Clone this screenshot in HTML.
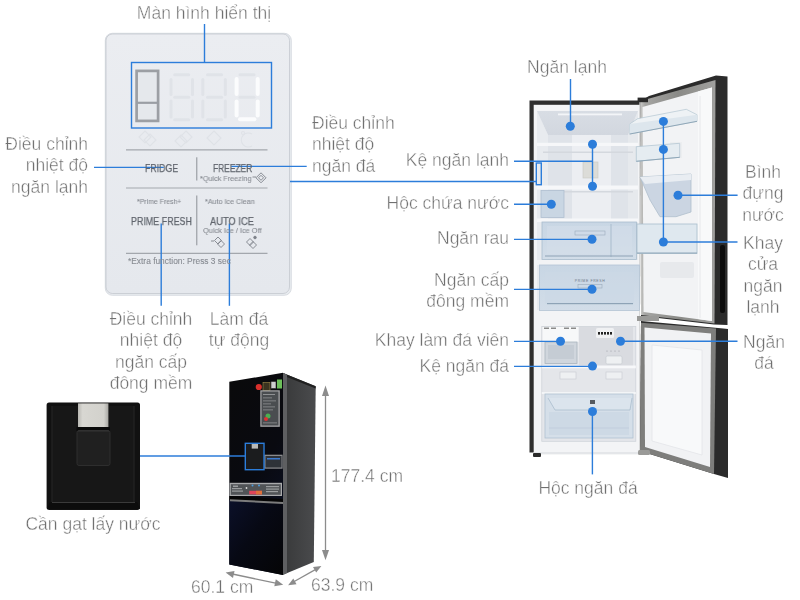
<!DOCTYPE html>
<html><head><meta charset="utf-8">
<style>
html,body{margin:0;padding:0;background:#fff;width:800px;height:600px;overflow:hidden;}
body{position:relative;font-family:"Liberation Sans",sans-serif;}
.t{position:absolute;color:#707070;-webkit-text-stroke:0.4px #fff;will-change:transform;font-size:17.5px;line-height:21.3px;white-space:nowrap;}
.r{text-align:right;}
.c{text-align:center;}
.p{position:absolute;color:#60656d;white-space:nowrap;line-height:1;transform-origin:0 0;-webkit-text-stroke:0.25px #60656d;will-change:transform;}
.s{color:#878b92;-webkit-text-stroke:0.1px #878b92;}
svg{position:absolute;left:0;top:0;}
</style></head><body>
<svg width="800" height="600" viewBox="0 0 800 600">
  <!-- control panel -->
  <defs><linearGradient id="pnl" x1="0" y1="0" x2="0" y2="1"><stop offset="0" stop-color="#ebedf1"/><stop offset="1" stop-color="#e5e8ed"/></linearGradient></defs>
  <rect x="105.3" y="33.3" width="186" height="262" rx="7" fill="#e9ecf0" stroke="#d2d6dc" stroke-width="0.8"/>
  <rect x="106" y="34" width="183.5" height="259.5" rx="6.5" fill="url(#pnl)" stroke="#bfc3ca" stroke-width="0.7"/>
  <!-- display rect -->
  <rect x="131.5" y="62.5" width="140" height="65.5" fill="none" stroke="#2c7dda" stroke-width="1.4"/>
  <rect x="136.6" y="70.9" width="21.5" height="50" fill="#e5e8ec" stroke="#9c9fa4" stroke-width="2.7"/>
  <line x1="136" y1="102.8" x2="158.5" y2="102.8" stroke="#9a9ea4" stroke-width="2.2"/>
  <!-- faint digits -->
  <g stroke="#e0e3e8" stroke-width="3" stroke-linecap="round" fill="none">
    <line x1="174.7" y1="74.7" x2="188.7" y2="74.7"/><line x1="174.7" y1="97.2" x2="188.7" y2="97.2"/><line x1="174.7" y1="119.7" x2="188.7" y2="119.7"/>
    <line x1="171" y1="79.4" x2="171" y2="94.4"/><line x1="192.5" y1="79.4" x2="192.5" y2="94.4"/><line x1="171" y1="101" x2="171" y2="117"/><line x1="192.5" y1="101" x2="192.5" y2="117"/>
    <line x1="207.5" y1="74.7" x2="221.6" y2="74.7"/><line x1="207.5" y1="97.2" x2="221.6" y2="97.2"/><line x1="207.5" y1="119.7" x2="221.6" y2="119.7"/>
    <line x1="202.8" y1="79.4" x2="202.8" y2="94.4"/><line x1="225.3" y1="79.4" x2="225.3" y2="94.4"/><line x1="202.8" y1="101" x2="202.8" y2="117"/><line x1="225.3" y1="101" x2="225.3" y2="117"/>
    <line x1="240" y1="74.7" x2="254" y2="74.7"/><line x1="240" y1="97.2" x2="254" y2="97.2"/>
  </g>
  <!-- white U -->
  <g stroke="#fbfcfd" stroke-width="4" stroke-linecap="round">
    <line x1="236.6" y1="79" x2="236.6" y2="94"/>
    <line x1="257.7" y1="79" x2="257.7" y2="94"/>
    <line x1="236.6" y1="101.5" x2="236.6" y2="115.5"/>
    <line x1="257.7" y1="101.5" x2="257.7" y2="115.5"/>
    <line x1="240" y1="119.3" x2="254.4" y2="119.3"/>
  </g>
  <!-- faint icons under display -->
  <g stroke="#dfe2e7" stroke-width="1.2" fill="none">
    <polygon points="145,131 151,137 145,143 139,137"/><polygon points="150,134 156,140 150,146 144,140"/>
    <polygon points="186,131 192,137 186,143 180,137"/><polygon points="181,135 187,141 181,147 175,141"/>
    <polygon points="214,131 221,138 214,145 207,138"/>
    <path d="M252,134 a7,7 0 1 0 0,12"/><circle cx="243" cy="133" r="1.5"/>
  </g>
  <!-- quick freezing / ice icons -->
  <g stroke="#7d8189" stroke-width="0.9" fill="none">
    <polygon points="261,172.8 266,177.8 261,182.8 256,177.8"/>
    <polygon points="261,175.3 263.5,177.8 261,180.3 258.5,177.8"/>
    <line x1="252.5" y1="177" x2="256" y2="177"/>
    <polygon points="218,237 221.5,240.5 218,244 214.5,240.5"/><polygon points="221,240.5 224.5,244 221,247.5 217.5,244"/>
    <line x1="211" y1="241" x2="214" y2="241"/>
    <polygon points="250,238.5 253.5,242 250,245.5 246.5,242"/><polygon points="253,241.5 256.5,245 253,248.5 249.5,245"/>
    <circle cx="255" cy="237.5" r="1.3" fill="#7d8189"/>
  </g>
  <!-- panel lines -->
  <line x1="126" y1="149.8" x2="267.5" y2="149.8" stroke="#a3a7ad" stroke-width="1.2"/>
  <line x1="126" y1="188" x2="267.5" y2="188" stroke="#a3a7ad" stroke-width="1.2"/>
  <line x1="126" y1="253.3" x2="267.5" y2="253.3" stroke="#a3a7ad" stroke-width="1.2"/>
  <line x1="196.8" y1="157.3" x2="196.8" y2="180.5" stroke="#8c9096" stroke-width="1"/>
  <line x1="196.8" y1="195.5" x2="196.8" y2="245.3" stroke="#8c9096" stroke-width="1"/>

  <!-- dispenser closeup -->
  <defs>
    <linearGradient id="slv" x1="0" y1="0" x2="1" y2="0">
      <stop offset="0" stop-color="#b9b8b3"/><stop offset="0.15" stop-color="#d8d7d2"/><stop offset="0.85" stop-color="#d2d1cc"/><stop offset="1" stop-color="#a9a8a4"/>
    </linearGradient>
  </defs>
  <rect x="46.6" y="402.4" width="93.4" height="107.6" rx="2.5" fill="#111111"/>
  <rect x="51.5" y="406" width="83" height="96" fill="#171717"/>
  <line x1="52" y1="406" x2="52" y2="502" stroke="#262626" stroke-width="1"/>
  <line x1="134" y1="406" x2="134" y2="502" stroke="#262626" stroke-width="1"/>
  <polygon points="50,502 137,502 140,509 47,509" fill="#0c0c0c"/>
  <line x1="52" y1="502.5" x2="135" y2="502.5" stroke="#3a3a3a" stroke-width="1"/>
  <rect x="78" y="403.4" width="30.4" height="23.6" fill="url(#slv)"/>
  <rect x="76.5" y="427" width="33.5" height="4" fill="#0a0a0a"/>
  <rect x="77" y="430.5" width="33" height="35" rx="2" fill="#202020" stroke="#2e2e2e" stroke-width="1"/>
  <line x1="78" y1="431" x2="109" y2="431" stroke="#343434" stroke-width="1"/>

  <!-- small fridge -->
  <defs>
    <linearGradient id="sfr" x1="0" y1="0" x2="0.4" y2="1">
      <stop offset="0" stop-color="#0a0a0b"/><stop offset="0.6" stop-color="#090a10"/><stop offset="1" stop-color="#0a0f22"/>
    </linearGradient>
    <linearGradient id="sfl" x1="0" y1="0" x2="1" y2="1">
      <stop offset="0" stop-color="#0b1029"/><stop offset="0.45" stop-color="#070914"/><stop offset="1" stop-color="#050506"/>
    </linearGradient>
    <linearGradient id="ssd" x1="0" y1="0" x2="1" y2="0">
      <stop offset="0" stop-color="#555657"/><stop offset="0.12" stop-color="#3a3b3c"/><stop offset="1" stop-color="#4a4b4d"/>
    </linearGradient>
  </defs>
  <polygon points="283,373 315.7,386.3 313.8,562 282.4,575" fill="url(#ssd)"/>
  <polygon points="283,373 315.7,386.3 315.7,388.5 283,375.5" fill="#202020"/>
  <polygon points="229.3,381.8 283,372.8 283,575 229.3,564.4" fill="url(#sfr)"/>
  <polygon points="283,373 287,374.6 287,573 283,575" fill="#5e5f61"/>
  <!-- stickers -->
  <circle cx="258.8" cy="387" r="3.1" fill="#d8302c"/>
  <rect x="263" y="382.5" width="7" height="8" fill="#3a3320" stroke="#a08a4a" stroke-width="0.6"/>
  <rect x="271" y="381.5" width="5" height="7" fill="#cfcfcf" stroke="#222" stroke-width="0.6"/>
  <rect x="277" y="379.5" width="5" height="9" fill="#6cbf5a"/>
  <rect x="260.3" y="390.3" width="19.5" height="36.5" fill="#a8a9aa"/>
  <rect x="261.5" y="391.5" width="17" height="34" fill="#4a4d50"/>
  <g fill="#8f9193">
    <rect x="263" y="394" width="12" height="1"/><rect x="263" y="397.5" width="9" height="0.8"/><rect x="263" y="400.5" width="13" height="0.8"/>
    <rect x="263" y="403.5" width="8" height="0.8"/><rect x="263" y="406.5" width="12" height="0.8"/><rect x="263" y="409.5" width="10" height="0.8"/>
    <rect x="263" y="422.5" width="14" height="0.8"/>
  </g>
  <circle cx="268" cy="416" r="2.5" fill="#4caf50"/>
  <circle cx="266" cy="419" r="2" fill="#d33"/>
  <!-- dispenser on small fridge -->
  <rect x="246" y="443.6" width="17.5" height="25.5" fill="#1b1c1e"/>
  <rect x="251.7" y="443.6" width="6.3" height="5" fill="#b9b9b7"/>
  <rect x="264.3" y="454.7" width="18.3" height="14" fill="#8a8b8d"/>
  <rect x="265.5" y="456" width="16" height="11.5" fill="#2e3238"/>
  <rect x="267" y="458" width="13" height="1.5" fill="#3c7bd0"/>
  <polygon points="229.3,500 283,503.5 283,575 229.3,564.4" fill="url(#sfl)"/>
  <!-- control strip -->
  <rect x="229.6" y="482.8" width="52.4" height="13.2" fill="#a9aaac"/>
  <rect x="230.8" y="484.2" width="50" height="10.6" fill="#515457"/>
  <g fill="#9b9d9f">
    <rect x="233" y="485.5" width="5" height="1.5"/><rect x="232" y="488" width="10" height="1.2"/><rect x="232" y="490.5" width="11" height="1.2"/>
    <rect x="266" y="486" width="13" height="1.2"/><rect x="266" y="488.5" width="13" height="1.2"/><rect x="266" y="491" width="12" height="1.2"/>
  </g>
  <circle cx="246.5" cy="488" r="0.9" fill="#ddd"/>
  <circle cx="252.5" cy="485.5" r="1" fill="#4a9de0"/><circle cx="259" cy="485.5" r="1" fill="#4a9de0"/>
  <rect x="249.2" y="490.8" width="12.8" height="3.6" fill="#e0455a"/>
  <rect x="256" y="490.8" width="6" height="3.6" fill="#e0703a"/>
  <polygon points="229.3,496 283,499 283,503.5 229.3,500" fill="#050505"/>
  <polygon points="230,499.2 283,502 283,504 230,501.2" fill="#7c7c7c"/>
  <!-- big fridge body -->
  <defs>
    <linearGradient id="cav" x1="0" y1="0" x2="1" y2="0">
      <stop offset="0" stop-color="#e9ecf0"/><stop offset="0.15" stop-color="#dde1e7"/><stop offset="0.85" stop-color="#dde1e7"/><stop offset="1" stop-color="#e9ecf0"/>
    </linearGradient>
    <linearGradient id="ceil" x1="0" y1="0" x2="0" y2="1">
      <stop offset="0" stop-color="#d8dde4"/><stop offset="1" stop-color="#d2d7df"/>
    </linearGradient>
    <linearGradient id="drw" x1="0" y1="0" x2="0" y2="1">
      <stop offset="0" stop-color="#c8d6e4"/><stop offset="1" stop-color="#d2dde8"/>
    </linearGradient>
    <linearGradient id="dk" x1="0" y1="0" x2="1" y2="0">
      <stop offset="0" stop-color="#3a3a3a"/><stop offset="1" stop-color="#1e1e1e"/>
    </linearGradient>
  </defs>
  <rect x="529.5" y="100.5" width="110" height="352" fill="#2e2e2e"/>
  <rect x="533.7" y="104.8" width="106" height="349.5" fill="#f3f4f6"/>
  <rect x="533.7" y="452" width="106" height="2.3" fill="#e4e6e9"/>
  <!-- fridge cavity -->
  <rect x="537" y="111" width="101" height="199" fill="#dfe3e9"/>
  <polygon points="537,111 638,111 628,135 548,135" fill="url(#ceil)"/>
  <polygon points="537,111 548,135 548,310 537,310" fill="#e8ebef"/>
  <polygon points="638,111 628,135 628,310 638,310" fill="#e6e9ed"/>
  <rect x="558" y="113.5" width="64" height="1.8" fill="#f3f5f8"/>
  <rect x="572" y="135" width="39" height="84" fill="#eceef2"/>
  <rect x="537" y="142.8" width="101" height="3.2" fill="#f6f7f9"/>
  <rect x="543" y="151.5" width="90" height="1.5" fill="#d4d8de"/>
  <rect x="583" y="162" width="15" height="16" fill="#dcdcd8" stroke="#c8c8c4" stroke-width="0.6"/>
  <rect x="537" y="185.5" width="101" height="4" fill="#f6f7f9"/>
  <rect x="543" y="191" width="90" height="1.5" fill="#d4d8de"/>
  <rect x="541" y="190.5" width="23" height="27" fill="#c9d6e3" stroke="#aebfd0" stroke-width="0.8"/>
  <rect x="537" y="218.5" width="101" height="3.5" fill="#f6f7f9"/>
  <rect x="542" y="222" width="94.5" height="37.5" fill="url(#drw)" stroke="#a9bccd" stroke-width="0.8"/>
  <rect x="547" y="226" width="85" height="28" fill="#d3dee9" opacity="0.6"/>
  <line x1="611" y1="224" x2="611" y2="257" stroke="#a9bccd" stroke-width="1"/>
  <line x1="545" y1="256" x2="633" y2="256" stroke="#8ea3b6" stroke-width="1"/>
  <rect x="575" y="231" width="30" height="4" fill="none" stroke="#9aabbb" stroke-width="0.6"/>
  <rect x="537" y="260" width="101" height="5" fill="#f2f3f5"/>
  <rect x="539.5" y="265" width="100" height="45.5" fill="url(#drw)" stroke="#b3c4d4" stroke-width="0.8"/>
  <rect x="545" y="272" width="89" height="32" fill="#ccd9e6" opacity="0.7"/>
  <rect x="547" y="303" width="86" height="1.2" fill="#8ea3b6"/>
  <text x="590" y="282" font-family="Liberation Sans" font-size="3.5" fill="#6c7a88" text-anchor="middle" letter-spacing="0.6">PRIME FRESH</text>
  <rect x="578" y="284.5" width="24" height="3.5" fill="none" stroke="#9aabbb" stroke-width="0.6"/>
  <!-- freezer cavity -->
  <rect x="541.8" y="326.5" width="94" height="114.8" fill="#e4e6ea" stroke="#cfd3d9" stroke-width="0.8"/>
  <rect x="579" y="327" width="54" height="39" fill="#d9dbe0"/>
  <rect x="542.5" y="327" width="36" height="15" fill="#f7f8f9"/>
  <g fill="#8a8a8a"><rect x="544" y="327.5" width="5" height="1.5"/><rect x="551" y="327.5" width="5" height="1.5"/><rect x="564" y="327.5" width="5" height="1.5"/><rect x="571" y="327.5" width="5" height="1.5"/></g>
  <rect x="545" y="342" width="32" height="21.5" fill="#d0d6dd" stroke="#a9b4bf" stroke-width="0.8"/>
  <rect x="548" y="345" width="26" height="14" fill="#c5ccd4"/>
  <rect x="596" y="328" width="18" height="10" rx="1.5" fill="#f0f1f3"/>
  <g fill="#222"><rect x="598" y="332" width="2" height="2.6"/><rect x="601" y="332" width="2" height="2.6"/><rect x="604" y="332" width="2" height="2.6"/><rect x="607" y="332" width="2" height="2.6"/><rect x="610" y="332" width="2" height="2.6"/></g>
  <g fill="#9a9ea4"><circle cx="607" cy="351" r="0.6"/><circle cx="611" cy="351" r="0.6"/><circle cx="615" cy="351" r="0.6"/><circle cx="619" cy="351" r="0.6"/></g>
  <rect x="606" y="356" width="16" height="8" rx="1.5" fill="#eef0f2" stroke="#c5c9cf" stroke-width="0.6"/>
  <rect x="541.8" y="365.5" width="94" height="2.8" fill="#f7f8fa"/>
  <rect x="560" y="372" width="16" height="7" fill="#eef0f2" stroke="#c5c9cf" stroke-width="0.6"/>
  <rect x="606" y="372" width="16" height="7" fill="#eef0f2" stroke="#c5c9cf" stroke-width="0.6"/>
  <rect x="541.8" y="392" width="94" height="2" fill="#f3f5f7"/>
  <rect x="545" y="394" width="88" height="44" fill="#d5dfe9" stroke="#b0c1d1" stroke-width="0.8"/>
  <path d="M548,398 L555,410 L630,410 L632,398" fill="#dbe4ed" stroke="#a9bccd" stroke-width="0.8"/>
  <rect x="549" y="412" width="80" height="23" fill="#cad7e4" opacity="0.8"/>
  <line x1="549" y1="428" x2="629" y2="428" stroke="#b8c8d6" stroke-width="0.6"/>
  <rect x="590" y="400" width="5" height="4" fill="#555a60"/>
  <rect x="533" y="453" width="8" height="4" rx="1" fill="#2a2a2a"/>
  <!-- upper door -->
  <defs>
    <linearGradient id="gsk" x1="0" y1="0" x2="1" y2="0">
      <stop offset="0" stop-color="#c9c9c7"/><stop offset="0.06" stop-color="#a5a5a3"/><stop offset="0.5" stop-color="#8a8a87"/><stop offset="1" stop-color="#a0a09e"/>
    </linearGradient>
  </defs>
  <polygon points="649,96 716,75.4 727.5,76.5 727.5,325 714,324.5 641,316 640.5,101" fill="#2b2b2b"/>
  <polygon points="640.5,101 715.5,80 714.5,323.5 641,315" fill="url(#gsk)"/>
  <polygon points="642.5,107 712,87.5 712,321 643.5,312" fill="#f2f3f5"/>
  <polygon points="698,91.5 712,87.5 712,321 698,319" fill="#f8f9fa"/>
  <rect x="637.6" y="97.6" width="10.4" height="4.6" fill="#2a2a2a"/>
  <line x1="700" y1="96" x2="700" y2="318" stroke="#e2e4e7" stroke-width="0.8"/>
  <rect x="720" y="245" width="5" height="68" rx="2" fill="#0c0c0c"/>
  <!-- door bins -->
  <polygon points="637.7,118.7 686.3,109.3 697,114.7 697,121.3 629.7,134 629.7,124" fill="#eef2f5" stroke="#b3c5d1" stroke-width="0.7"/>
  <polygon points="629.7,124 697,114.7 697,121.3 629.7,134" fill="#dde6ed"/>
  <line x1="629.7" y1="134" x2="697" y2="121.3" stroke="#8fa7b8" stroke-width="1"/>
  <rect x="670" y="142" width="12" height="16" fill="#eceef0"/>
  <polygon points="636.3,146.7 679.7,143.3 679.7,157.3 636.3,161.3" fill="#e5ecf1" stroke="#aec1ce" stroke-width="0.7"/>
  <line x1="636.3" y1="161.3" x2="679.7" y2="157.3" stroke="#8fa7b8" stroke-width="1"/>
  <polygon points="640,177 691,174 691,212 676,216.7 660,216.7 650,200" fill="#cbd5e2" stroke="#b0bfcd" stroke-width="0.8"/>
  <polygon points="640,177 691,174 691,180 645,184" fill="#e9edf2"/>
  <rect x="637" y="224" width="60" height="29.5" fill="#dfe8ef" stroke="#a9bdcd" stroke-width="0.8"/>
  <line x1="637" y1="253" x2="697" y2="253" stroke="#8fa7b8" stroke-width="1"/>
  <rect x="660" y="262" width="34" height="16" rx="2" fill="#e7e9ec"/>
  <!-- lower door -->
  <polygon points="641,321 720.8,328.2 728,329 728,478 714,474 640,451" fill="#2b2b2b"/>
  <polygon points="641,322.7 716,328.5 714,474 640,451" fill="#7e7e7c"/>
  <polygon points="644.5,327.5 711,333.5 710,467 645,447" fill="#f1f2f4"/>
  <polygon points="652,345 702,350 702,455 652,441" fill="#f8f9fa" stroke="#e3e5e8" stroke-width="0.8"/>
  <rect x="637" y="316" width="22" height="5" fill="#9a9a98"/>
  <rect x="638" y="450" width="12" height="5" rx="1.5" fill="#9a9a98"/>
  <!-- blue lines -->
  <g stroke="#2c7dda" stroke-width="1.4" fill="none">
    <line x1="204.5" y1="24" x2="204.5" y2="62.5"/>
    <line x1="94" y1="167.4" x2="163.8" y2="167.4"/>
    <line x1="231.2" y1="166.4" x2="306.7" y2="166.4"/>
    <line x1="290" y1="181.5" x2="536.3" y2="181.5"/>
    <line x1="161.2" y1="223.5" x2="161.2" y2="305.8"/>
    <line x1="229.4" y1="223.5" x2="229.4" y2="305.8"/>
    <line x1="140" y1="456" x2="245.3" y2="456"/>
    <rect x="245.3" y="443.3" width="18.7" height="26.4"/>
    <rect x="536.3" y="163" width="5" height="21.7"/>
    <line x1="570.5" y1="79" x2="570.5" y2="126"/>
    <line x1="514" y1="161.3" x2="592.5" y2="161.3"/>
    <line x1="592.5" y1="144" x2="592.5" y2="186"/>
    <line x1="514" y1="204.3" x2="551" y2="204.3"/>
    <line x1="514" y1="239.4" x2="592" y2="239.4"/>
    <line x1="514" y1="289.4" x2="592" y2="289.4"/>
    <line x1="514" y1="341.4" x2="560.5" y2="341.4"/>
    <line x1="620.5" y1="341.3" x2="737.5" y2="341.3"/>
    <line x1="514" y1="366.4" x2="592.5" y2="366.4"/>
    <line x1="592.4" y1="411.5" x2="592.4" y2="474.4"/>
    <line x1="663.4" y1="121.4" x2="663.4" y2="242"/>
    <line x1="678" y1="195.3" x2="737.6" y2="195.3"/>
    <line x1="663.4" y1="242" x2="737.5" y2="242"/>
  </g>
  <g fill="#2c7dda">
    <circle cx="570.3" cy="126.2" r="4.5"/>
    <circle cx="592.5" cy="144.2" r="4.5"/>
    <circle cx="592.5" cy="186.2" r="4.5"/>
    <circle cx="551.3" cy="204.3" r="4.5"/>
    <circle cx="592" cy="239.3" r="4.5"/>
    <circle cx="592" cy="289.3" r="4.5"/>
    <circle cx="560.5" cy="341.3" r="4.5"/>
    <circle cx="620.5" cy="341.3" r="4.5"/>
    <circle cx="592.5" cy="366.1" r="4.5"/>
    <circle cx="592.5" cy="411.5" r="4.5"/>
    <circle cx="663.4" cy="121.4" r="4.5"/>
    <circle cx="663.4" cy="149.4" r="4.5"/>
    <circle cx="678" cy="195.3" r="4.5"/>
    <circle cx="663.4" cy="242" r="4.5"/>
  </g>
  <!-- dimension arrows -->
  <g stroke="#8c8c8c" stroke-width="1.3" fill="#8c8c8c">
    <line x1="325.5" y1="392" x2="325.5" y2="553"/>
    <polygon points="325.5,385.5 322,396 329,396" stroke="none"/>
    <polygon points="325.5,560.3 322,550 329,550" stroke="none"/>
    <line x1="230" y1="573.5" x2="278" y2="583.6"/>
    <polygon points="225.6,572.5 234.5,571 233,578" stroke="none"/>
    <polygon points="283.2,584.7 274.3,586.2 275.8,579.2" stroke="none"/>
    <line x1="292" y1="582.8" x2="317.5" y2="568.4"/>
    <polygon points="288.1,585.2 293.3,578.6 296.5,584.3" stroke="none"/>
    <polygon points="321.4,566 316.2,572.6 313,566.9" stroke="none"/>
  </g>
</svg>

<!-- labels -->
<div class="t c" style="left:104px;top:2.5px;width:200px;">Màn hình hiển thị</div>
<div class="t r" style="left:0;top:133.5px;width:88px;">Điều chỉnh<br>nhiệt độ<br>ngăn lạnh</div>
<div class="t" style="left:312px;top:112.5px;">Điều chỉnh<br>nhiệt độ<br>ngăn đá</div>
<div class="t c" style="left:51px;top:308.5px;width:200px;">Điều chỉnh<br>nhiệt độ<br>ngăn cấp<br>đông mềm</div>
<div class="t c" style="left:139px;top:308.5px;width:200px;">Làm đá<br>tự động</div>
<div class="t c" style="left:-7px;top:513.5px;width:200px;">Cần gạt lấy nước</div>
<div class="t" style="left:331px;top:465.5px;">177.4 cm</div>
<div class="t" style="left:191px;top:576.5px;">60.1 cm</div>
<div class="t" style="left:311px;top:574.5px;">63.9 cm</div>
<div class="t c" style="left:467px;top:56.5px;width:200px;">Ngăn lạnh</div>
<div class="t r" style="left:309.3px;top:149.5px;width:200px;">Kệ ngăn lạnh</div>
<div class="t r" style="left:309.3px;top:192.5px;width:200px;">Hộc chứa nước</div>
<div class="t r" style="left:309.3px;top:227.5px;width:200px;">Ngăn rau</div>
<div class="t r" style="left:309.3px;top:269.5px;width:200px;">Ngăn cấp<br>đông mềm</div>
<div class="t r" style="left:309.3px;top:329.5px;width:200px;">Khay làm đá viên</div>
<div class="t r" style="left:309.3px;top:355.5px;width:200px;">Kệ ngăn đá</div>
<div class="t c" style="left:488px;top:477.5px;width:200px;">Hộc ngăn đá</div>
<div class="t c" style="left:703px;top:161.5px;width:120px;">Bình<br>đựng<br>nước</div>
<div class="t c" style="left:703px;top:232.5px;width:120px;">Khay<br>cửa<br>ngăn<br>lạnh</div>
<div class="t c" style="left:704px;top:331.5px;width:120px;">Ngăn<br>đá</div>

<!-- panel texts -->
<div class="p" style="left:144.6px;top:163.8px;font-size:10.4px;transform:scaleX(.845);">FRIDGE</div>
<div class="p" style="left:212.5px;top:163.8px;font-size:10.4px;transform:scaleX(.81);">FREEZER</div>
<div class="p s" style="left:199.7px;top:174.5px;font-size:7.7px;transform:scaleX(.94);">*Quick Freezing</div>
<div class="p s" style="left:136.6px;top:198.3px;font-size:7.7px;transform:scaleX(.9);">*Prime Fresh+</div>
<div class="p s" style="left:205.4px;top:198.3px;font-size:7.7px;transform:scaleX(.93);">*Auto Ice Clean</div>
<div class="p" style="left:131px;top:216.8px;font-size:10.4px;transform:scaleX(.857);">PRIME FRESH</div>
<div class="p" style="left:210.2px;top:216.8px;font-size:10.4px;transform:scaleX(.897);">AUTO ICE</div>
<div class="p s" style="left:202.7px;top:227.3px;font-size:7.8px;transform:scaleX(.946);">Quick Ice / Ice Off</div>
<div class="p s" style="left:127.9px;top:256.5px;font-size:8.4px;">*Extra function: Press 3 sec</div>
</body></html>
